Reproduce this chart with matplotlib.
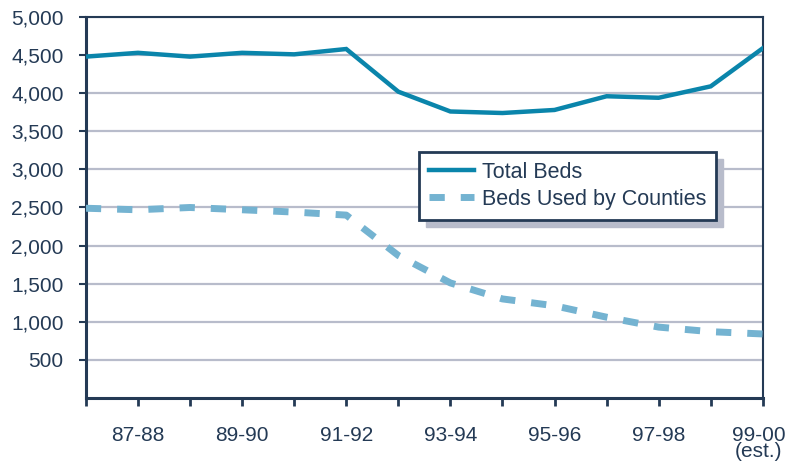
import numpy as np
import matplotlib.pyplot as plt
import matplotlib.transforms as mtransforms
from matplotlib.patches import Rectangle

years = ['86-87', '87-88', '88-89', '89-90', '90-91', '91-92', '92-93',
         '93-94', '94-95', '95-96', '96-97', '97-98', '98-99', '99-00\n(est.)']
total_beds = [4480, 4530, 4480, 4530, 4510, 4580, 4020,
              3760, 3740, 3780, 3960, 3940, 4090, 4590]
county_beds = [2490, 2470, 2500, 2470, 2440, 2400, 1870,
               1510, 1300, 1210, 1060, 930, 870, 840]

dark = '#243a55'
plt.rcParams['font.family'] = ['Liberation Sans', 'DejaVu Sans']

fig = plt.figure(figsize=(7.88, 4.66), dpi=100)
ax = fig.add_axes([0.109, 0.146, 0.859, 0.8175])

x = np.arange(len(years))
ax.plot(x, total_beds, color='#0a85ab', lw=3.2, label='Total Beds',
        solid_joinstyle='miter', zorder=3)
ax.plot(x, county_beds, color='#74b3d1', lw=5, dashes=(2.2, 2.3),
        label='Beds Used by Counties', zorder=3)

ax.set_xlim(0, len(years) - 1)
ax.set_ylim(0, 5000)
ax.set_yticks(np.arange(500, 5001, 500))
ax.set_yticklabels([f'{v:,}' for v in range(500, 5001, 500)])
ax.yaxis.grid(True, color='#b8bccb', lw=1.6)
ax.set_axisbelow(True)

ax.set_xticks(x)
ax.set_xticklabels([lab if i % 2 == 1 else '' for i, lab in enumerate(years)])
ax.tick_params(axis='x', direction='out', length=6, width=2, color=dark,
               labelsize=15, labelcolor=dark, pad=14)
ax.tick_params(axis='y', direction='out', length=5, width=1.5, color=dark,
               labelsize=15, labelcolor=dark, pad=11)
for lab in ax.get_xticklabels():
    lab.set_linespacing(0.85)
    lab.set_verticalalignment('top')
# nudge the last label so it stays inside the figure
last = ax.get_xticklabels()[-1]
last.set_transform(last.get_transform() +
                   mtransforms.ScaledTranslation(-3 / 72, 0, fig.dpi_scale_trans))

for side in ['left', 'bottom']:
    ax.spines[side].set_color(dark)
    ax.spines[side].set_linewidth(2.2)
for side in ['top', 'right']:
    ax.spines[side].set_color(dark)
    ax.spines[side].set_linewidth(1.5)

leg = ax.legend(loc='upper left', bbox_to_anchor=(0.492, 0.646),
                fontsize=15.5, frameon=True, fancybox=False, shadow=False,
                framealpha=1, handlelength=2.1, borderpad=0.45,
                labelspacing=0.3, handletextpad=0.4, borderaxespad=0)
leg.get_frame().set_edgecolor(dark)
leg.get_frame().set_facecolor('white')
leg.get_frame().set_linewidth(2)
for t in leg.get_texts():
    t.set_color(dark)

# legend shadow
fig.canvas.draw()
bb = leg.get_window_extent().transformed(fig.transFigure.inverted())
shadow = Rectangle((bb.x0 + 7 / 788, bb.y0 - 7 / 466), bb.width, bb.height,
                   transform=fig.transFigure, color='#b8bccb', zorder=4)
ax.add_artist(shadow)
shadow.set_transform(fig.transFigure)
leg.set_zorder(5)

fig.savefig('out.png', dpi=100)
